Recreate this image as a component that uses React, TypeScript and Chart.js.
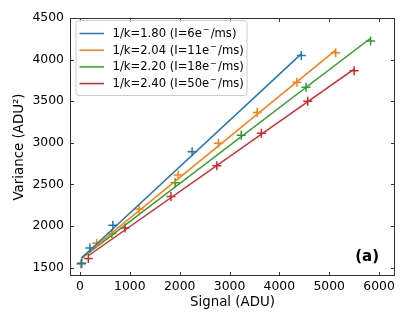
import React, { useEffect, useRef } from "react";
import { Chart, registerables } from "chart.js";

Chart.register(...registerables);

const seriesLabels = [
  "1/k=1.80 (I=6e⁻/ms)",
  "1/k=2.04 (I=11e⁻/ms)",
  "1/k=2.20 (I=18e⁻/ms)",
  "1/k=2.40 (I=50e⁻/ms)",
];
const seriesColors = ["#1f77b4", "#ff7f0e", "#2ca02c", "#d62728"];

const signalS1 = [30, 200, 660, 2250, 4440];
const varianceS1 = [1550, 1735, 2010, 2893, 4050];
const signalS2 = [20, 335, 1185, 1970, 2777, 3555, 4351, 5130];
const varianceS2 = [1545, 1795, 2205, 2615, 2994, 3365, 3727, 4081];
const signalS3 = [35, 640, 1910, 3235, 4535, 5830];
const varianceS3 = [1553, 1910, 2519, 3092, 3667, 4225];
const signalS4 = [167, 904, 1825, 2745, 3640, 4570, 5500];
const varianceS4 = [1610, 1976, 2354, 2724, 3115, 3500, 3867];

const fitSlopes = [0.556, 0.489, 0.456, 0.4205];
const fitIntercepts = [1600, 1605, 1598, 1573];

const xTicks = [0, 1000, 2000, 3000, 4000, 5000, 6000];
const yTicks = [1500, 2000, 2500, 3000, 3500, 4000, 4500];

const xLabel = "Signal (ADU)";
const yLabel = "Variance (ADU²)";
const panelLabel = "(a)";

const FONT = "'DejaVu Sans', sans-serif";

const signals = [signalS1, signalS2, signalS3, signalS4];
const variances = [varianceS1, varianceS2, varianceS3, varianceS4];

function drawLegendLabel(ctx: any, text: string, x: number, y: number) {
  const parts = text.split("⁻");
  const main = `11.6px ${FONT}`;
  const sup = `8.1px ${FONT}`;
  ctx.font = main;
  ctx.fillText(parts[0], x, y);
  let cx = x + ctx.measureText(parts[0]).width;
  if (parts.length > 1) {
    ctx.font = sup;
    cx += 0.8;
    ctx.fillText("−", cx, y - 3.8);
    cx += ctx.measureText("−").width + 1.2;
    ctx.font = main;
    ctx.fillText(parts[1], cx, y);
  }
}

const framePlugin = {
  id: "frameTicksLegend",
  afterDraw(chart: any) {
    const ctx = chart.ctx;
    const { left, right, top, bottom } = chart.chartArea;
    const xs = chart.scales.x;
    const ys = chart.scales.y;
    ctx.save();
    // frame
    ctx.strokeStyle = "#333";
    ctx.lineWidth = 1;
    ctx.strokeRect(left + 0.5, top + 0.5, right - left - 1, bottom - top - 1);
    // inward ticks
    const tl = 4;
    ctx.beginPath();
    xTicks.forEach((v) => {
      const px = Math.round(xs.getPixelForValue(v)) + 0.5;
      ctx.moveTo(px, bottom);
      ctx.lineTo(px, bottom - tl);
      ctx.moveTo(px, top);
      ctx.lineTo(px, top + tl);
    });
    yTicks.forEach((v) => {
      const py = Math.round(ys.getPixelForValue(v)) + 0.5;
      ctx.moveTo(left, py);
      ctx.lineTo(left + tl, py);
      ctx.moveTo(right, py);
      ctx.lineTo(right - tl, py);
    });
    ctx.stroke();

    // panel label
    ctx.fillStyle = "#000";
    ctx.font = `bold 15px ${FONT}`;
    ctx.textAlign = "right";
    ctx.textBaseline = "middle";
    ctx.fillText(panelLabel, right - 16, bottom - 19);

    // legend
    const lx = left + 5.5;
    const ly = top + 2;
    const lw = 171;
    const lh = 75;
    ctx.globalAlpha = 0.8;
    ctx.fillStyle = "#fff";
    ctx.beginPath();
    ctx.roundRect(lx + 0.5, ly + 0.5, lw, lh, 3);
    ctx.fill();
    ctx.globalAlpha = 1;
    ctx.strokeStyle = "#cccccc";
    ctx.lineWidth = 1;
    ctx.stroke();
    ctx.textAlign = "left";
    ctx.textBaseline = "middle";
    seriesLabels.forEach((lab, i) => {
      const ry = ly + 13.5 + i * 16.7;
      ctx.strokeStyle = seriesColors[i];
      ctx.lineWidth = 1.5;
      ctx.beginPath();
      ctx.moveTo(lx + 4, ry);
      ctx.lineTo(lx + 28.5, ry);
      ctx.stroke();
      ctx.fillStyle = "#000";
      drawLegendLabel(ctx, lab, lx + 37, ry + 0.5);
    });
    ctx.restore();
  },
};

export default function App() {
  const ref = useRef<HTMLCanvasElement>(null);
  useEffect(() => {
    const datasets: any[] = [];
    signals.forEach((sx, i) => {
      const x0 = sx[0];
      const x1 = sx[sx.length - 1];
      datasets.push({
        type: "scatter",
        label: seriesLabels[i],
        data: [
          { x: x0, y: fitIntercepts[i] + fitSlopes[i] * x0 },
          { x: x1, y: fitIntercepts[i] + fitSlopes[i] * x1 },
        ],
        showLine: true,
        borderColor: seriesColors[i],
        borderWidth: 1.5,
        pointRadius: 0,
        fill: false,
      });
      datasets.push({
        type: "scatter",
        label: seriesLabels[i] + " data",
        data: sx.map((x, j) => ({ x, y: variances[i][j] })),
        showLine: false,
        pointStyle: "cross",
        pointRadius: 4.5,
        pointBorderWidth: 1.5,
        borderColor: seriesColors[i],
        backgroundColor: seriesColors[i],
      });
    });
    const tickFont = { family: FONT, size: 12.4 };
    const titleFont = { family: FONT, size: 13.4 };
    const chart = new Chart(ref.current as HTMLCanvasElement, {
      type: "scatter",
      data: { datasets },
      plugins: [framePlugin],
      options: {
        responsive: false,
        animation: false,
        devicePixelRatio: 1,
        layout: { padding: { top: 18, right: 14, left: 0, bottom: 0 } },
        plugins: { legend: { display: false }, tooltip: { enabled: false } },
        scales: {
          x: {
            type: "linear",
            position: "bottom",
            min: -200,
            max: 6320,
            afterBuildTicks: (s: any) => {
              s.ticks = xTicks.map((v) => ({ value: v }));
            },
            afterFit: (s: any) => {
              s.height = 51;
            },
            grid: { display: false, drawTicks: false },
            border: { display: false },
            ticks: {
              padding: 3,
              color: "#000",
              font: tickFont,
              maxRotation: 0,
              autoSkip: false,
              callback: (v: any) => String(v),
            },
            title: {
              display: true,
              text: xLabel,
              color: "#000",
              font: titleFont,
              padding: { top: 0, bottom: 16 },
            },
          },
          y: {
            type: "linear",
            position: "left",
            min: 1400,
            max: 4500,
            afterBuildTicks: (s: any) => {
              s.ticks = yTicks.map((v) => ({ value: v }));
            },
            afterFit: (s: any) => {
              s.width = 70;
            },
            grid: { display: false, drawTicks: false },
            border: { display: false },
            ticks: {
              padding: 6,
              color: "#000",
              font: tickFont,
              autoSkip: false,
              callback: (v: any) => String(v),
            },
            title: {
              display: true,
              text: yLabel,
              color: "#000",
              font: titleFont,
              padding: { top: 11, bottom: 0 },
            },
          },
        },
      } as any,
    });
    return () => chart.destroy();
  }, []);
  return (
    <div style={{ position: "fixed", left: 0, top: 0, width: 409, height: 327, background: "#fff" }}>
      <canvas ref={ref} width={409} height={327} style={{ display: "block", width: 409, height: 327 }} />
    </div>
  );
}
